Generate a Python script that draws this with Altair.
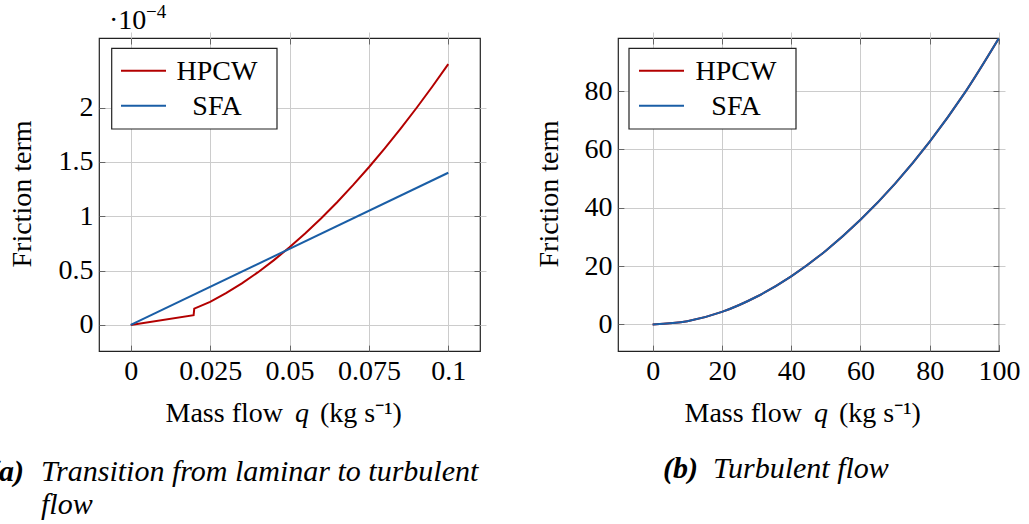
import altair as alt
import pandas as pd

FONT = "Liberation Serif"
series_names = ["HPCW", "SFA"]
series_colors = ["#b30000", "#1a5ea6"]

# Panel (a): friction term in units of 1e-4
a_hpcw_q = [0, 0.0198, 0.02, 0.025, 0.03, 0.035, 0.04, 0.045, 0.05, 0.055, 0.06,
            0.065, 0.07, 0.075, 0.08, 0.085, 0.09, 0.095, 0.1]
a_hpcw_v = [0, 0.089, 0.150, 0.212, 0.292, 0.382, 0.483, 0.594, 0.714, 0.843, 0.982,
            1.129, 1.286, 1.451, 1.624, 1.806, 1.996, 2.194, 2.40]
a_sfa_q = [0, 0.1]
a_sfa_v = [0, 1.40]

# Panel (b)
b_q = [0, 10, 20, 30, 40, 50, 60, 70, 80, 90, 100]
b_hpcw_v = [0, 1.1, 4.3, 9.5, 16.5, 25.3, 35.9, 48.3, 62.7, 79.2, 98.2]
b_sfa_v = [0, 1.1, 4.3, 9.5, 16.5, 25.3, 35.9, 48.3, 62.7, 79.2, 98.2]

a_xticks = [0, 0.025, 0.05, 0.075, 0.1]
a_yticks = [0, 0.5, 1, 1.5, 2]
b_xticks = [0, 20, 40, 60, 80, 100]
b_yticks = [0, 20, 40, 60, 80]

W, H = 381, 313
FS = 28
TICK = 6


def frame(qs, vs, names):
    rows = []
    for q, v, n in zip(qs, vs, names):
        for a, b in zip(q, v):
            rows.append({"q": a, "v": b, "series": n})
    return pd.DataFrame(rows)


def one():
    return alt.Chart(pd.DataFrame({"k": [0]}))


def txt(text, x, y, align="left", size=FS, style="normal", weight="normal", angle=0,
        baseline="middle"):
    return alt.Chart(pd.DataFrame({"t": [text]})).mark_text(
        align=align, baseline=baseline, fontSize=size, font=FONT, fontStyle=style,
        fontWeight=weight, angle=angle, color="black"
    ).encode(x=alt.value(x), y=alt.value(y), text=alt.Text("t:N"))


def legend_box(x0, x1, y0, y1, sx0, sx1, lx, rows_y):
    parts = [one().mark_rect(fill="white", stroke="#222", strokeWidth=1.2).encode(
        x=alt.value(x0), x2=alt.value(x1), y=alt.value(y0), y2=alt.value(y1))]
    for name, col, ry in zip(series_names, series_colors, rows_y):
        parts.append(one().mark_rule(strokeWidth=2, color=col).encode(
            x=alt.value(sx0), x2=alt.value(sx1), y=alt.value(ry)))
        parts.append(txt(name, lx, ry + 1, align="center"))
    return parts


def lines(df, xdom, ydom, xticks, yticks, interp):
    xs = alt.Scale(domain=xdom, nice=False, zero=False)
    ys = alt.Scale(domain=ydom, nice=False, zero=False)
    main = alt.Chart(df).mark_line(strokeWidth=2, interpolate=interp, clip=True).encode(
        x=alt.X("q:Q", scale=xs,
                axis=alt.Axis(values=xticks, labelExpr="datum.value + ''", title=None,
                              orient="bottom")),
        y=alt.Y("v:Q", scale=ys,
                axis=alt.Axis(values=yticks, labelExpr="datum.value + ''", title=None,
                              orient="left")),
        color=alt.Color("series:N", scale=alt.Scale(domain=series_names, range=series_colors),
                        legend=None),
    )
    ghost = alt.Chart(df).mark_line(opacity=0, clip=True).encode(
        x=alt.X("q:Q", scale=xs,
                axis=alt.Axis(values=xticks, labels=False, grid=False, title=None,
                              orient="top")),
        y=alt.Y("v:Q", scale=ys,
                axis=alt.Axis(values=yticks, labels=False, grid=False, title=None,
                              orient="right")),
        detail="series:N",
    )
    return [main, ghost]


def xtitle():
    return [
        txt("Mass flow", 184, 376, align="right"),
        txt("q", 203, 376, align="center", style="italic"),
        txt("(kg s⁻¹)", 221, 376, align="left"),
    ]


df_a = frame([a_hpcw_q, a_sfa_q], [a_hpcw_v, a_sfa_v], series_names)
df_b = frame([b_q, b_q], [b_hpcw_v, b_sfa_v], series_names)

left = alt.layer(
    *lines(df_a, [-0.01, 0.11], [-0.24, 2.64], a_xticks, a_yticks, "linear"),
    *legend_box(12.7, 178, 10.3, 91, 22, 67, 118, [32.7, 67.7]),
    txt("·10", 10, -17),
    txt("−4", 47, -26, size=19),
    txt("Friction term", -76, 156, align="center", angle=270),
    *xtitle(),
    txt("(a)", -110, 434, size=30, style="italic", weight="bold"),
    txt("Transition from laminar to turbulent", -58, 434, size=30, style="italic"),
    txt("flow", -58, 467, size=30, style="italic"),
).resolve_axis(x="independent", y="independent").properties(width=W, height=H)

right = alt.layer(
    *lines(df_b, [-10, 100], [-9.1, 98.2], b_xticks, b_yticks, "monotone"),
    *legend_box(11, 178, 10.3, 91, 21, 66, 118, [32.7, 67.7]),
    txt("Friction term", -68, 156, align="center", angle=270),
    *xtitle(),
    txt("(b)", 80, 431, size=30, align="right", style="italic", weight="bold"),
    txt("Turbulent flow", 95, 431, size=30, style="italic"),
).resolve_axis(x="independent", y="independent").properties(width=W, height=H)

chart = alt.hconcat(left, right, spacing=138, bounds="flush").resolve_scale(
    color="independent", x="independent", y="independent"
).configure_view(
    stroke="#222", strokeWidth=1.2
).configure_axis(
    domain=False, ticks=True, tickSize=TICK, offset=-TICK, tickColor="#666",
    tickWidth=1, grid=True, gridColor="#cccccc", gridWidth=1,
    labelFont=FONT, labelFontSize=FS, labelColor="black", labelPadding=6,
    labelOverlap=False, labelFlush=False,
).properties(
    padding={"left": -12, "top": 2, "right": 0, "bottom": 0},
    background="white",
)

chart.save("out.html", embed_options={"renderer": "svg", "actions": False})
